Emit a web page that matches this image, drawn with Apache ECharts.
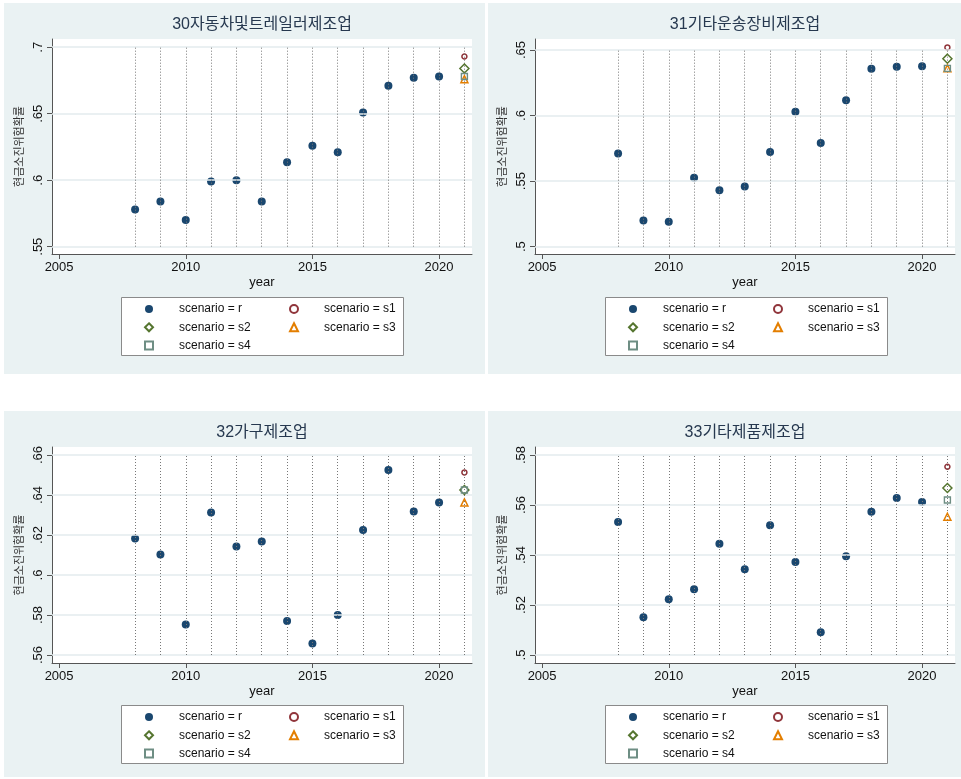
<!DOCTYPE html>
<html>
<head>
<meta charset="utf-8">
<script src="https://cdn.jsdelivr.net/npm/echarts@6/dist/echarts.min.js"></script>
<style>
html,body{margin:0;padding:0;background:#fff;}
#c{width:961px;height:779px;}
</style>
</head>
<body>
<div id="c"></div>
<script>
// ---- data ----
const years = [2008, 2009, 2010, 2011, 2012, 2013, 2014, 2015, 2016, 2017, 2018, 2019, 2020];
const scenarioYear = 2021;
const lineYears = [2008, 2009, 2010, 2011, 2012, 2013, 2014, 2015, 2016, 2017, 2018, 2019, 2020, 2021];
const xTicks = [2005, 2010, 2015, 2020];
const scenarioNames = ['scenario = r', 'scenario = s1', 'scenario = s2', 'scenario = s3', 'scenario = s4'];
const panelTitles = ['30자동차및트레일러제조업', '31기타운송장비제조업', '32가구제조업', '33기타제품제조업'];
const yAxisTitle = '현금소진위험확률';
const xAxisTitle = 'year';

// r series values (2008-2020)
const r30 = [0.578, 0.584, 0.570, 0.599, 0.600, 0.584, 0.6135, 0.626, 0.621, 0.651, 0.671, 0.677, 0.678];
const r31 = [0.571, 0.520, 0.519, 0.5526, 0.543, 0.5458, 0.5722, 0.603, 0.579, 0.6116, 0.6358, 0.6373, 0.6376];
const r32 = [0.6183, 0.6103, 0.5752, 0.6313, 0.6143, 0.6167, 0.577, 0.5657, 0.580, 0.6225, 0.6525, 0.6317, 0.6362];
const r33 = [0.5532, 0.5151, 0.5223, 0.5263, 0.5445, 0.5343, 0.5519, 0.5372, 0.5091, 0.5395, 0.5573, 0.5628, 0.5612];
// scenario values at 2021: s1, s2, s3, s4
const s30 = [0.693, 0.684, 0.676, 0.678];
const s31 = [0.652, 0.6434, 0.636, 0.636];
const s32 = [0.6513, 0.6425, 0.6363, 0.6425];
const s33 = [0.5753, 0.5668, 0.5553, 0.562];

// y tick labels
const yTicks30 = [0.55, 0.60, 0.65, 0.70];
const yTicks31 = [0.50, 0.55, 0.60, 0.65];
const yTicks32 = [0.56, 0.58, 0.60, 0.62, 0.64, 0.66];
const yTicks33 = [0.50, 0.52, 0.54, 0.56, 0.58];

// ---- layout / style ----
const panels = [
  {r: r30, s: s30, ticks: yTicks30, grid: {left: 52, top: 39, width: 420, height: 215}, yMin: 0.5445, yMax: 0.7062, ox: 0, oy: 0},
  {r: r31, s: s31, ticks: yTicks31, grid: {left: 535, top: 39, width: 420, height: 215}, yMin: 0.4944, yMax: 0.6584, ox: 484, oy: 0},
  {r: r32, s: s32, ticks: yTicks32, grid: {left: 52, top: 447, width: 420, height: 216}, yMin: 0.556, yMax: 0.664, ox: 0, oy: 408},
  {r: r33, s: s33, ticks: yTicks33, grid: {left: 535, top: 447, width: 420, height: 216}, yMin: 0.4968, yMax: 0.5832, ox: 484, oy: 408}
];

const FONT = '"Liberation Sans", Arial, "Noto Sans CJK KR", sans-serif';
const symbolStyles = [
  {symbol: 'circle', size: 8, itemStyle: {color: '#1a476f', opacity: 1}},
  {symbol: 'circle', size: 5, itemStyle: {color: 'rgba(255,255,255,0)', borderColor: '#90353b', borderWidth: 1.5, opacity: 1}},
  {symbol: 'diamond', size: 9, itemStyle: {color: 'rgba(255,255,255,0)', borderColor: '#55752f', borderWidth: 1.5, opacity: 1}},
  {symbol: 'triangle', size: 7, itemStyle: {color: 'rgba(255,255,255,0)', borderColor: '#e37e00', borderWidth: 1.5, opacity: 1}},
  {symbol: 'rect', size: 6, itemStyle: {color: 'rgba(255,255,255,0)', borderColor: '#6e8e84', borderWidth: 1.4, opacity: 1}}
];

const fmt = v => String(+(+v).toFixed(2)).replace(/^0\./, '.');

const grids = [], xAxes = [], yAxes = [], series = [], titles = [], legends = [], graphics = [];

panels.forEach((p, i) => {
  grids.push(Object.assign({show: true, backgroundColor: '#ffffff', borderWidth: 0}, p.grid));
  titles.push({
    text: panelTitles[i],
    left: p.grid.left + p.grid.width / 2,
    top: p.grid.top - 22,
    textAlign: 'center',
    padding: 0,
    textStyle: {fontFamily: FONT, fontSize: 16, fontWeight: 'normal', color: '#26384f'}
  });
  xAxes.push({
    gridIndex: i, type: 'value', min: 2004.72, max: 2021.3,
    name: xAxisTitle, nameLocation: 'middle', nameGap: 22,
    nameTextStyle: {fontFamily: FONT, fontSize: 13, color: '#111'},
    axisLine: {show: true, onZero: false, lineStyle: {color: '#555', width: 1}},
    axisTick: {show: true, length: 5, lineStyle: {color: '#555'}, customValues: xTicks},
    axisLabel: {customValues: xTicks, fontFamily: FONT, fontSize: 13, color: '#111', margin: 7, formatter: v => String(Math.round(v))},
    splitLine: {show: false}
  });
  yAxes.push({
    gridIndex: i, type: 'value', min: p.yMin, max: p.yMax,
    name: yAxisTitle, nameLocation: 'middle', nameRotate: 90, nameGap: 27,
    nameTextStyle: {fontFamily: FONT, fontSize: 11, color: '#333'},
    axisLine: {show: true, lineStyle: {color: '#555', width: 1}},
    axisTick: {show: true, length: 5, lineStyle: {color: '#555'}, customValues: p.ticks},
    axisLabel: {customValues: p.ticks, rotate: 90, fontFamily: FONT, fontSize: 13, color: '#111', margin: 7, formatter: fmt},
    splitLine: {show: false}
  });
  const hLines = p.ticks.map(t => ({yAxis: t, lineStyle: {color: '#e3ebee', width: 1.6, type: 'solid'}}));
  const vLines = lineYears.map(yr => [
    {coord: [yr, p.ticks[0]], lineStyle: {color: '#777777', width: 1, type: [1, 2]}},
    {coord: [yr, p.ticks[p.ticks.length - 1]]}
  ]);
  series.push({
    name: scenarioNames[0], type: 'scatter', xAxisIndex: i, yAxisIndex: i,
    symbol: symbolStyles[0].symbol, symbolSize: symbolStyles[0].size,
    itemStyle: symbolStyles[0].itemStyle,
    data: years.map((yr, k) => [yr, p.r[k]]),
    z: 3,
    markLine: {silent: true, symbol: ['none', 'none'], label: {show: false}, animation: false, data: hLines.concat(vLines)}
  });
  p.s.forEach((v, k) => {
    const st = symbolStyles[k + 1];
    series.push({
      name: scenarioNames[k + 1], type: 'scatter', xAxisIndex: i, yAxisIndex: i,
      symbol: st.symbol, symbolSize: st.size, itemStyle: st.itemStyle,
      data: [[scenarioYear, v]], z: 4 + k
    });
  });
  // panel background
  const bgTop = p.oy === 0 ? 3 : 411;
  const bgH = p.oy === 0 ? 371 : 366;
  const bgLeft = p.ox === 0 ? 4 : 488;
  const bgW = p.ox === 0 ? 481 : 473;
  graphics.push({type: 'rect', z: -100, silent: true, shape: {x: bgLeft, y: bgTop, width: bgW, height: bgH}, style: {fill: '#eaf2f3'}});
  // legend box
  graphics.push({type: 'rect', z: -50, silent: true, shape: {x: 121.5 + p.ox, y: 297.5 + p.oy, width: 282, height: 58}, style: {fill: '#ffffff', stroke: '#8a8a8a', lineWidth: 1}});
  const legBase = {
    orient: 'vertical', itemWidth: 8, itemHeight: 8, itemGap: 4.3, padding: 0,
    selectedMode: false, top: 302 + p.oy,
    textStyle: {fontFamily: FONT, fontSize: 12, color: '#111', lineHeight: 14, padding: [0, 0, 0, 21]}
  };
  legends.push(Object.assign({}, legBase, {left: 144 + p.ox, data: [scenarioNames[0], scenarioNames[2], scenarioNames[4]]}));
  legends.push(Object.assign({}, legBase, {left: 289 + p.ox, data: [scenarioNames[1], scenarioNames[3]]}));
});

const chart = echarts.init(document.getElementById('c'), null, {renderer: 'canvas'});
chart.setOption({
  backgroundColor: '#ffffff',
  animation: false,
  title: titles,
  legend: legends,
  grid: grids,
  xAxis: xAxes,
  yAxis: yAxes,
  series: series,
  graphic: graphics
});
</script>
</body>
</html>
